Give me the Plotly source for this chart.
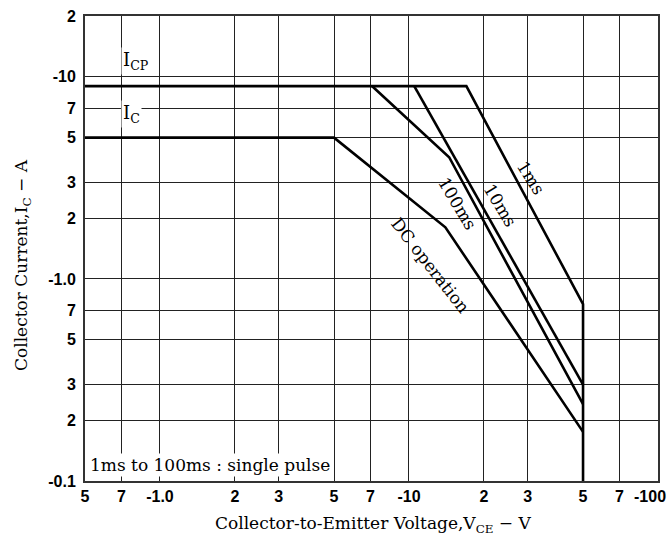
import plotly.graph_objects as go
import math

# ---- data ----
x_tickvals = [0.5, 0.7, 1, 2, 3, 5, 7, 10, 20, 30, 50, 70, 100]
x_ticktext = ["5", "7", "-1.0", "2", "3", "5", "7", "-10", "2", "3", "5", "7", "-100"]
y_tickvals = [0.1, 0.2, 0.3, 0.5, 0.7, 1, 2, 3, 5, 7, 10, 20]
y_ticktext = ["-0.1", "2", "3", "5", "7", "-1.0", "2", "3", "5", "7", "-10", "2"]

ms1_v = [0.5, 17, 50, 50]
ms1_i = [9, 9, 0.75, 0.1]
ms10_v = [10.5, 50]
ms10_i = [9, 0.3]
ms100_v = [7.1, 14.5, 50]
ms100_i = [9, 4, 0.24]
dc_v = [0.5, 5, 14, 50]
dc_i = [5, 5, 1.8, 0.175]

W, H = 670, 547
L, R, T, B = 85, 12, 16, 66
PW, PH = W - L - R, H - T - B

def px(xp, yp):
    return (xp - L) / PW, (H - B - yp) / PH

fig = go.Figure()
line = dict(color="black", width=2.6)
for xs, ys, nm in [(ms1_v, ms1_i, "1ms"), (ms10_v, ms10_i, "10ms"),
                   (ms100_v, ms100_i, "100ms"), (dc_v, dc_i, "DC operation")]:
    fig.add_trace(go.Scatter(x=xs, y=ys, mode="lines", line=line, name=nm,
                             showlegend=False, hoverinfo="skip"))

serif = "DejaVu Serif"
tickfont = dict(family="Liberation Sans", size=16, color="black")

# last x tick label is drawn as an annotation so it is not clipped at the edge
x_ticktext_axis = x_ticktext[:-1] + [""]

fig.update_xaxes(type="log", range=[math.log10(0.5), math.log10(100)],
                 tickvals=x_tickvals, ticktext=[f"<b>{t}</b>" if t else "" for t in x_ticktext_axis],
                 tickfont=tickfont, automargin=False,
                 showgrid=True, gridcolor="#222", gridwidth=1.2,
                 showline=True, linecolor="#333", linewidth=2, mirror=True,
                 zeroline=False, ticks="")
fig.update_yaxes(type="log", range=[math.log10(0.1), math.log10(20)],
                 tickvals=y_tickvals, ticktext=[f"<b>{t}</b>" for t in y_ticktext],
                 tickfont=tickfont, automargin=False, ticklabelstandoff=4,
                 showgrid=True, gridcolor="#222", gridwidth=1.2,
                 showline=True, linecolor="#333", linewidth=2, mirror=True,
                 zeroline=False, ticks="")

annots = []
def add_text(xp, yp, text, size=17, angle=0, bg=None, family=serif):
    x, y = px(xp, yp)
    a = dict(x=x, y=y, xref="paper", yref="paper", text=text, showarrow=False,
             font=dict(family=family, size=size, color="black"), textangle=angle,
             xanchor="center", yanchor="middle")
    if bg:
        a["bgcolor"] = bg
    annots.append(a)

add_text(136, 61, "I<sub>CP</sub>", size=18, bg="white")
add_text(131, 114, "I<sub>C</sub>", size=18, bg="white")
add_text(531, 178, "1ms", size=17, angle=58)
add_text(500, 205, "10ms", size=17, angle=59)
add_text(457, 203, "100ms", size=17, angle=59)
add_text(430, 265, "DC operation", size=17, angle=52)

x0, y0 = px(88, 465)
annots.append(dict(x=x0, y=y0, xref="paper", yref="paper",
                   text="1ms to 100ms : single pulse", showarrow=False,
                   font=dict(family=serif, size=17, color="black"),
                   xanchor="left", yanchor="middle", bgcolor="white"))

# last x tick label
add_text(650, 496, f"<b>{x_ticktext[-1]}</b>", size=16, family="Liberation Sans")

# axis titles
add_text(373, 524, "Collector-to-Emitter Voltage,V<sub>CE</sub> − V", size=17)
add_text(22, 265, "Collector Current,I<sub>C</sub> − A", size=17, angle=-90)

fig.update_layout(width=W, height=H, margin=dict(l=L, r=R, t=T, b=B, autoexpand=False),
                  paper_bgcolor="white", plot_bgcolor="white",
                  annotations=annots, showlegend=False)

fig.write_html("out.html", config={"displayModeBar": False},
               post_script="document.body.style.margin='0';")
